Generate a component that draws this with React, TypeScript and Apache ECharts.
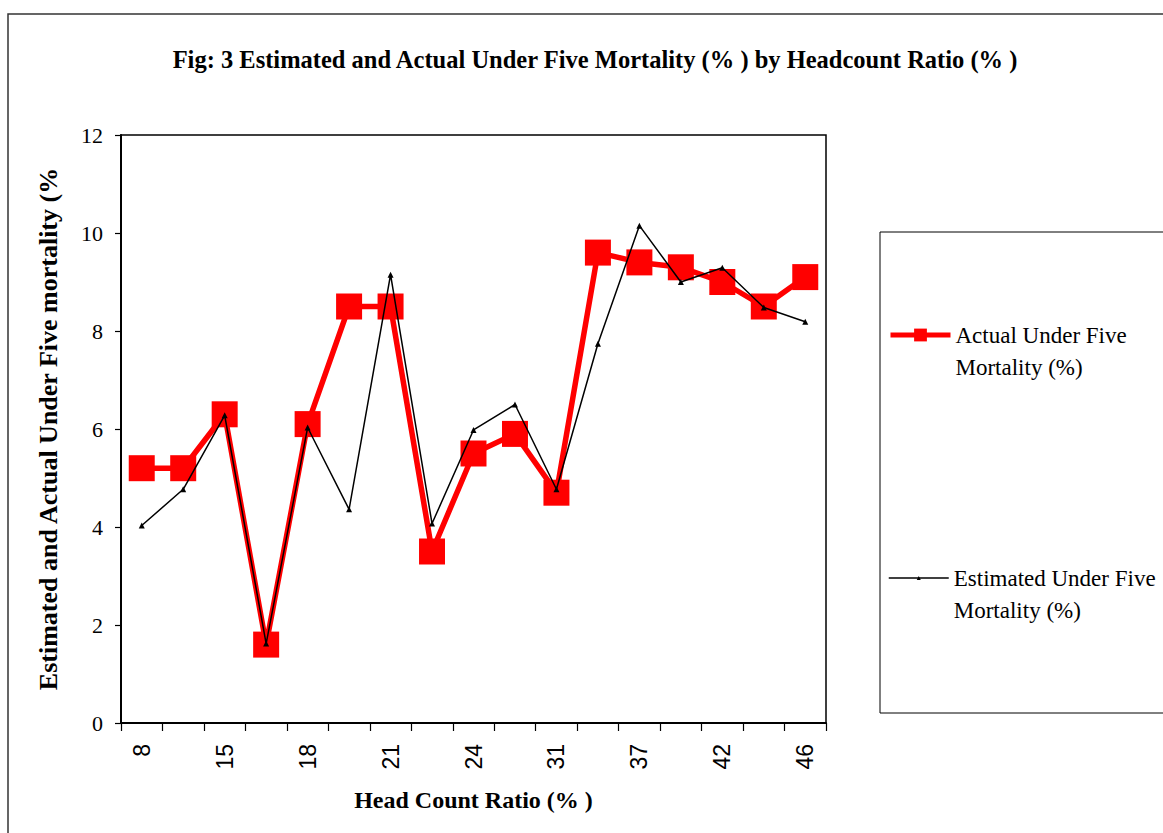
import React, { useEffect, useRef } from "react";
import * as echarts from "echarts";

const categories = ["8", "12", "15", "17", "18", "20", "21", "23", "24", "27", "31", "34", "37", "40", "42", "44", "46"];
const actualValues = [5.2, 5.2, 6.3, 1.6, 6.1, 8.5, 8.5, 3.5, 5.5, 5.9, 4.7, 9.6, 9.4, 9.3, 9.0, 8.5, 9.1];
const estimatedValues = [4.03, 4.77, 6.28, 1.62, 6.03, 4.36, 9.15, 4.07, 5.98, 6.5, 4.77, 7.74, 10.15, 9.0, 9.29, 8.48, 8.19];
const yMin = 0;
const yMax = 12;
const yStep = 2;

const actualName = "Actual Under Five Mortality (%)";
const estimatedName = "Estimated Under Five Mortality (%)";
const legendLines: Record<string, string> = {
  [actualName]: "\nActual Under Five\nMortality (%)",
  [estimatedName]: "\nEstimated Under Five\nMortality (%)",
};

const serif = "'Liberation Serif', 'Times New Roman', serif";
const sans = "'Liberation Sans', Arial, sans-serif";

export default function App() {
  const ref = useRef<HTMLDivElement>(null);

  useEffect(() => {
    document.body.style.margin = "0";
    document.body.style.overflow = "hidden";
    if (!ref.current) return;
    const chart = echarts.init(ref.current, undefined, { renderer: "svg" });

    const legendText = {
      fontFamily: serif,
      fontSize: 23,
      lineHeight: 32,
      color: "#000",
    };

    chart.setOption({
      animation: false,
      backgroundColor: "#fff",
      title: {
        text: "Fig: 3 Estimated and Actual Under Five Mortality (% ) by Headcount Ratio (% )",
        left: 590,
        textAlign: "center",
        top: 42,
        textStyle: { fontFamily: serif, fontWeight: "bold", fontSize: 24.5, color: "#000" },
      },
      graphic: [
        {
          type: "rect",
          shape: { x: 8, y: 14, width: 1300, height: 1000 },
          style: { fill: "none", stroke: "#333", lineWidth: 1.5 },
          silent: true,
          z: -1,
        },
        {
          type: "rect",
          shape: { x: 880, y: 232, width: 400, height: 481 },
          style: { fill: "none", stroke: "#000", lineWidth: 1 },
          silent: true,
        },
      ],
      legend: [
        {
          data: [actualName],
          left: 888,
          top: 287,
          orient: "vertical",
          padding: 0,
          itemWidth: 60,
          itemHeight: 16,
          lineStyle: { width: 5 },
          formatter: (n: string) => legendLines[n],
          textStyle: legendText,
        },
        {
          data: [estimatedName],
          left: 888,
          top: 530,
          orient: "vertical",
          padding: 0,
          itemWidth: 60,
          itemHeight: 5,
          lineStyle: { width: 1.5 },
          formatter: (n: string) => legendLines[n],
          textStyle: legendText,
        },
      ],
      grid: {
        left: 121,
        right: 337,
        top: 135,
        bottom: 110,
        show: true,
        borderColor: "#000",
        borderWidth: 1.5,
        backgroundColor: "transparent",
      },
      xAxis: {
        type: "category",
        data: categories,
        boundaryGap: true,
        axisLine: { lineStyle: { color: "#000", width: 2 } },
        axisTick: { show: true, interval: 0, length: 8, lineStyle: { color: "#000", width: 1.2 } },
        axisLabel: {
          interval: 1,
          rotate: 90,
          margin: 21,
          fontFamily: sans,
          fontSize: 23,
          color: "#000",
        },
        splitLine: { show: false },
        name: "Head Count Ratio (% )",
        nameLocation: "middle",
        nameGap: 65,
        nameTextStyle: { fontFamily: serif, fontWeight: "bold", fontSize: 24, color: "#000" },
      },
      yAxis: {
        type: "value",
        min: yMin,
        max: yMax,
        interval: yStep,
        axisLine: { show: true, lineStyle: { color: "#000", width: 2 } },
        axisTick: { show: true, length: 6, lineStyle: { color: "#000", width: 1.2 } },
        axisLabel: { margin: 18, fontFamily: serif, fontSize: 22, color: "#000" },
        splitLine: { show: false },
        name: "Estimated and Actual Under Five mortality (%",
        nameLocation: "middle",
        nameGap: 60,
        nameTextStyle: { fontFamily: serif, fontWeight: "bold", fontSize: 26, color: "#000" },
      },
      series: [
        {
          name: actualName,
          type: "line",
          data: actualValues,
          symbol: "rect",
          symbolSize: 26,
          lineStyle: { color: "#ff0000", width: 5.5 },
          itemStyle: { color: "#ff0000" },
          z: 2,
        },
        {
          name: estimatedName,
          type: "line",
          data: estimatedValues,
          symbol: "triangle",
          symbolSize: 6,
          lineStyle: { color: "#000", width: 1.5 },
          itemStyle: { color: "#000" },
          z: 3,
        },
      ],
    });

    return () => chart.dispose();
  }, []);

  return <div ref={ref} style={{ width: 1163, height: 833 }} />;
}
